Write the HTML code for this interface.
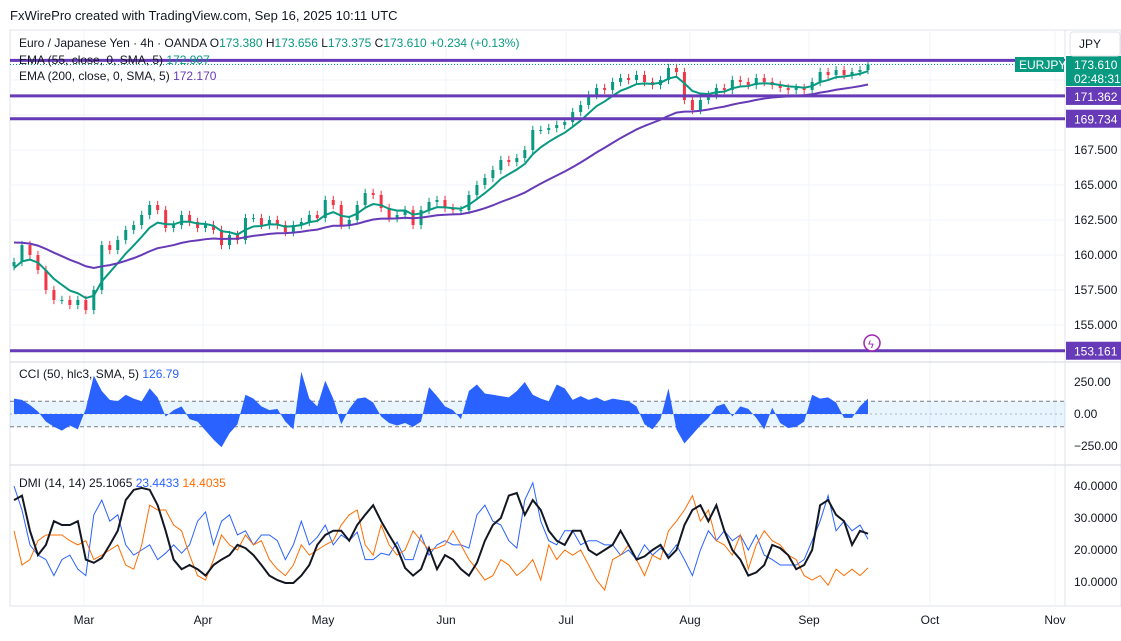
<!DOCTYPE html>
<html><head><meta charset="utf-8"><style>
body{margin:0;background:#fff;font-family:"Liberation Sans",sans-serif;}
svg text{font-family:"Liberation Sans",sans-serif;}
</style></head><body>
<svg id="c" width="1121" height="636" xmlns="http://www.w3.org/2000/svg">
<rect width="1121" height="636" fill="#fff"/>
<text x="10" y="20" font-size="13" fill="#131722">FxWirePro created with TradingView.com, Sep 16, 2025 10:11 UTC</text>
<rect x="10" y="30" width="1111" height="576" fill="none" stroke="#e0e3eb"/>
<g id="grid"></g>
<g id="main"></g>
<g id="cci"></g>
<g id="dmi"></g>
<g id="axes"></g>
</svg>
<script>
const monthLabels=["Mar","Apr","May","Jun","Jul","Aug","Sep","Oct","Nov"];
const monthX=[84,203,323,446,566,690,809,930,1055];
const closes=[159.50,160.71,160.00,158.93,157.50,156.79,156.79,156.43,156.79,156.07,157.50,160.71,160.36,161.07,161.79,162.14,162.86,163.57,163.21,161.93,162.14,162.86,162.36,161.93,162.14,161.79,160.71,161.43,161.07,162.64,162.64,162.14,162.50,162.14,161.64,162.14,162.36,162.86,162.64,163.93,163.57,162.14,162.50,163.57,164.43,164.29,163.36,162.64,162.86,163.21,162.14,163.21,163.79,163.93,163.36,163.21,163.21,164.29,165.00,165.50,166.07,166.79,166.64,166.93,167.50,168.93,168.93,169.07,169.29,169.50,170.21,170.71,171.43,171.93,171.79,172.36,172.64,172.50,172.86,172.36,172.14,172.50,173.36,173.07,171.07,170.36,171.07,171.43,171.93,171.79,172.50,172.36,172.14,172.64,172.36,172.14,171.93,171.79,171.93,171.79,172.36,173.07,172.86,173.21,172.86,173.07,173.21,173.61];
const cciValues=[120,110,70,20,-60,-100,-130,-90,-120,40,300,180,110,100,150,120,100,200,130,-20,30,60,-40,-60,-130,-200,-260,-150,-80,150,120,60,30,40,-60,-120,330,120,60,260,120,-80,40,120,130,90,-20,-70,-90,-70,-100,-60,210,140,60,30,-40,180,230,160,150,140,130,180,250,150,120,100,230,200,110,140,110,130,100,120,110,100,60,-80,-120,-40,200,-120,-230,-160,-90,-30,60,80,-20,60,40,-30,-120,50,-70,-110,-100,-60,150,120,130,90,-30,-30,60,120];
const adxValues=[35.6,37,26,18.4,21.6,29,27.8,27.8,29,17,16,17.5,21.6,26,35.6,38.8,39.4,38.8,34,26,17,14,15.3,14,12,15.3,17,18.4,21.6,20.6,18.4,15.3,12,10.6,9.7,9.7,12,15.3,21.6,24.7,26,26,22.9,27.8,31,34,29,24.7,20.6,14.4,12,14,20.6,14,18.4,17,14,12,16,22.9,27.8,30,37,37.8,31,35.6,32.5,26,22.9,21.6,26,26,20,18.4,20,21.6,26,21.6,17,18,20,21.6,17.5,20,27.8,32.5,34,29,34,26,20,17,12,13,15.3,21.6,20.6,18.4,14,15.3,20,34,35.6,31,29,21.6,26,25.1];
const plusDI=[40,32.5,21.6,18.4,17,12,17,18.4,14,12,31,35.6,29,31,21.6,18.4,20,21.6,17,19,21.6,19,21.6,29,31.9,21.6,29,31,24.7,26,21.6,24.7,24.7,22.9,17,21.6,29,21.6,24,27.8,21.6,24.7,22.9,25.6,17,17,19,18.4,22.5,17,17,24.7,18.4,21.6,22.9,21.6,21.6,20.6,31,34,29,27.8,22.9,20.6,35.6,41,29,22.9,21.6,26,26,21.6,22.9,22.9,21.6,21.6,18.4,20,17,21.6,18.4,20.6,18.4,21.6,17,12,20,26,22.9,26,22.9,24.7,20,24.7,18.4,17,15.3,15.3,15.3,17,22.9,29,37,26,29,26,27.8,23.4];
const minusDI=[26,15.3,17,22.9,24.7,24.7,24.7,22.9,21.6,22.9,17,18.4,20,21.6,15.3,14,21.6,34,32.5,32.5,27.8,26,18.4,12,10.6,17,24.7,21.6,20,24.7,21.6,22.9,17,14,12,15.3,21.6,18.4,20,21.6,22.9,27.8,31,32.5,21.6,18.4,27.8,21.6,18.4,20,26,22.9,20,20.6,21.6,26,21.6,17,14,10.6,12,17,15.3,12,14,17,10.6,21.6,17,20,18.4,20,15.3,10.6,7.5,17,18.4,21.6,17,12,18.4,17,26,29,32.5,37,29,32.5,22.9,21.6,18.4,24.7,14,21.6,26,22.9,21.6,18.4,17,12,10.6,12,9,14,12,14,12,14.4];
const priceTicks=[167.5,165,162.5,160,157.5,155];
const levels=[173.9,171.362,169.734,153.161];
const cciTicks=[250,0,-250];
const dmiTicks=[40,30,20,10];

const NS="http://www.w3.org/2000/svg";
function mk(p,t,a,txt){const e=document.createElementNS(NS,t);for(const k in a)e.setAttribute(k,a[k]);if(txt!==undefined)e.textContent=txt;p.appendChild(e);return e;}
const X0=14,DX=(868-14)/(closes.length-1),R=1065;
const xs=i=>X0+i*DX;
const py=p=>150-(p-167.5)*14;
const cy=v=>414-v*32/250;
const dy=v=>486+(40-v)*3.2;
const G=document.getElementById('grid'),M=document.getElementById('main'),C=document.getElementById('cci'),D=document.getElementById('dmi'),A=document.getElementById('axes');

monthX.forEach((x,i)=>{const l=mk(G,'line',{x1:x,x2:x,y1:30,y2:606,stroke:'#f0f3fa'});

});
priceTicks.concat([170,172.5]).forEach(p=>{const l=mk(G,'line',{x1:10,x2:R,y1:py(p),y2:py(p),stroke:'#f0f3fa'});

});
[362,465].forEach(y=>{const l=mk(G,'line',{x1:10,x2:1121,y1:y,y2:y,stroke:'#d1d4dc','stroke-width':1});

});
const ax=mk(G,'line',{x1:R,x2:R,y1:30,y2:606,stroke:'#e0e3eb'});



closes.forEach((c,i)=>{const o=i?closes[i-1]:c-0.3;const up=c>=o;const col=up?'#089981':'#f23645';const x=xs(i);
const w=mk(M,'line',{x1:x,x2:x,y1:py(Math.max(o,c)+0.3),y2:py(Math.min(o,c)-0.3),stroke:col,'stroke-width':1});


const b=mk(M,'rect',{x:x-1.5,y:py(Math.max(o,c)),width:3,height:Math.max(1,Math.abs(py(o)-py(c))),fill:col});

});
function ema(arr,n,seed){const a=2/(n+1);let e=seed;return arr.map(v=>e=e+a*(v-e));}
const e55=ema(closes,6,158.9),e200=ema(closes,26,161.0);
[[e55,'#089981','ema-55-line'],[e200,'#673ab7','ema-200-line']].forEach(([s,col,nm])=>{
const l=mk(M,'polyline',{points:s.map((v,i)=>xs(i)+','+py(v)).join(' '),fill:'none',stroke:col,'stroke-width':2});

});
levels.forEach((p,i)=>{const l=mk(M,'line',{x1:10,x2:R,y1:py(p),y2:py(p),stroke:'#673ab7','stroke-width':3});

});
const cur=closes[closes.length-1];
const dl=mk(M,'line',{x1:10,x2:R,y1:py(cur),y2:py(cur),stroke:'#089981','stroke-dasharray':'1 2'});


const ic=mk(M,'circle',{cx:872,cy:343,r:8,fill:'#fff',stroke:'#9c27b0','stroke-width':1.5});


mk(M,'text',{x:868,y:348,'font-size':11,fill:'#9c27b0'},'ϟ');

const lg=mk(M,'text',{x:19,y:47,'font-size':12,fill:'#131722'});


lg.innerHTML='Euro / Japanese Yen · 4h · OANDA  O<tspan fill="#089981">173.380</tspan>  H<tspan fill="#089981">173.656</tspan>  L<tspan fill="#089981">173.375</tspan>  C<tspan fill="#089981">173.610</tspan>  <tspan fill="#089981">+0.234 (+0.13%)</tspan>';
lg.setAttribute('xml:space','preserve');
const l2=mk(M,'text',{x:19,y:64,'font-size':12,fill:'#131722'});


l2.innerHTML='EMA (55, close, 0, SMA, 5)  <tspan fill="#089981">172.907</tspan>';
const l3=mk(M,'text',{x:19,y:80,'font-size':12,fill:'#131722'});


l3.innerHTML='EMA (200, close, 0, SMA, 5)  <tspan fill="#673ab7">172.170</tspan>';

const band=mk(C,'rect',{x:10,y:cy(100),width:R-10,height:cy(-100)-cy(100),fill:'#2196f3','fill-opacity':0.1});


[100,-100].forEach(v=>{const l=mk(C,'line',{x1:10,x2:R,y1:cy(v),y2:cy(v),stroke:'#787b86','stroke-dasharray':'4 3'});

});
const zl=mk(C,'line',{x1:10,x2:R,y1:cy(0),y2:cy(0),stroke:'#787b86','stroke-dasharray':'2 3','stroke-opacity':0.5});


const cciPts=[xs(0)+','+cy(0)].concat(cciValues.map((v,i)=>xs(i)+','+cy(v))).concat([xs(cciValues.length-1)+','+cy(0)]);
const ca=mk(C,'polygon',{points:cciPts.join(' '),fill:'#2962ff'});


const cl=mk(C,'text',{x:19,y:378,'font-size':12,fill:'#131722'});


cl.innerHTML='CCI (50, hlc3, SMA, 5)  <tspan fill="#2962ff">126.79</tspan>';

[[plusDI,'#2962ff',1,'dmi-plus-line'],[minusDI,'#ff6d00',1,'dmi-minus-line'],[adxValues,'#131722',2,'adx-line']].forEach(([s,col,w,nm])=>{
const l=mk(D,'polyline',{points:s.map((v,i)=>xs(i)+','+dy(v)).join(' '),fill:'none',stroke:col,'stroke-width':w});

});
const dlg=mk(D,'text',{x:19,y:487,'font-size':12,fill:'#131722'});


dlg.innerHTML='DMI (14, 14)  25.1065  <tspan fill="#2962ff">23.4433</tspan>  <tspan fill="#ff6d00">14.4035</tspan>';

priceTicks.forEach(p=>{const t=mk(A,'text',{x:1074,y:py(p)+4,'font-size':12,fill:'#131722'},p.toFixed(3));

});
cciTicks.forEach(v=>{const t=mk(A,'text',{x:1074,y:cy(v)+4,'font-size':12,fill:'#131722'},(v<0?'\u2212':'')+Math.abs(v).toFixed(2));

});
dmiTicks.forEach(v=>{const t=mk(A,'text',{x:1074,y:dy(v)+4,'font-size':12,fill:'#131722'},v.toFixed(4));

});
monthLabels.forEach((m,i)=>{const t=mk(A,'text',{x:monthX[i],y:624,'font-size':12,fill:'#131722','text-anchor':'middle'},m);

});
levels.slice(1).forEach(p=>{const r=mk(A,'rect',{x:1066,y:py(p)-9,width:55,height:18,fill:'#673ab7'});


mk(A,'text',{x:1074,y:py(p)+5,'font-size':12,fill:'#fff'},p.toFixed(3));});
const gr=mk(A,'rect',{x:1066,y:56,width:55,height:30,fill:'#089981'});


mk(A,'text',{x:1074,y:69,'font-size':12,fill:'#fff'},cur.toFixed(3));
mk(A,'text',{x:1074,y:83,'font-size':12,fill:'#fff'},'02:48:31');
const sy=mk(A,'rect',{x:1015,y:57,width:49,height:15,fill:'#089981'});


mk(A,'text',{x:1019,y:69,'font-size':12,fill:'#fff'},'EURJPY');
const jb=mk(A,'rect',{x:1070,y:32,width:50,height:24,rx:3,fill:'#fff',stroke:'#e0e3eb'});


mk(A,'text',{x:1079,y:48,'font-size':12,fill:'#131722'},'JPY');
</script>
</body></html>
